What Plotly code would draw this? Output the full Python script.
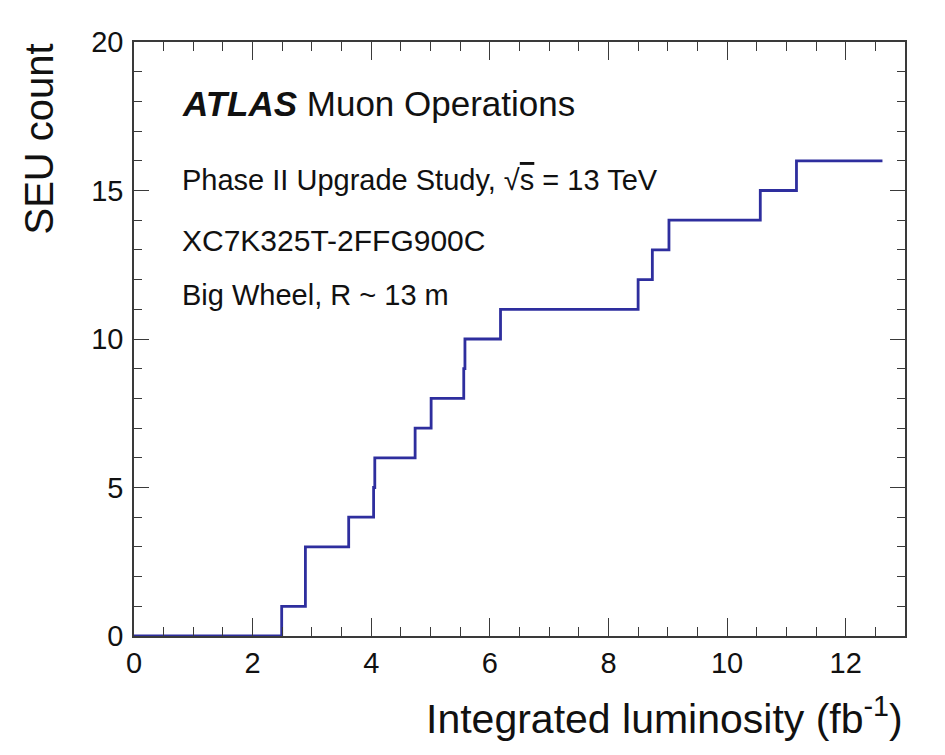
import plotly.graph_objects as go

# Step edges (integrated luminosity, fb^-1) and cumulative SEU count
lumi = [0.0, 2.49, 2.89, 3.62, 4.04, 4.06, 4.74, 5.01, 5.56, 5.58, 6.18,
        8.50, 8.74, 9.02, 10.56, 11.17, 12.62]
seu_count = [0, 1, 3, 4, 5, 6, 7, 8, 9, 10, 11, 12, 13, 14, 15, 16, 16]

x_ticks = [0, 2, 4, 6, 8, 10, 12]
y_ticks = [0, 5, 10, 15, 20]

FONT = "Liberation Sans, Arial, Helvetica, sans-serif"
AX = "#3a3a3a"

# page body has an 8px margin, so the figure is offset by (8, 8)
OFF = 8

fig = go.Figure()
fig.add_trace(go.Scatter(
    x=lumi, y=seu_count, mode="lines", line_shape="hv",
    line=dict(color="#2e2e9e", width=2.8), showlegend=False,
))

fig.update_layout(
    width=945, height=755,
    margin=dict(l=134 - OFF, r=48, t=42 - OFF, b=127),
    paper_bgcolor="white", plot_bgcolor="white",
    font=dict(family=FONT, color="#111111"),
    xaxis=dict(
        range=[0, 13], tickvals=x_ticks, showgrid=False, zeroline=False,
        showline=True, linecolor=AX, linewidth=1.5, mirror="allticks",
        ticks="inside", ticklen=18, tickwidth=1.4, tickcolor=AX,
        tickfont=dict(size=29, family=FONT, color="#111"),
        minor=dict(ticks="inside", dtick=0.5, ticklen=9, tickwidth=1.4, tickcolor=AX, showgrid=False),
    ),
    yaxis=dict(
        range=[0, 20], tickvals=y_ticks, showgrid=False, zeroline=False,
        showline=True, linecolor=AX, linewidth=1.5, mirror="allticks",
        ticks="inside", ticklen=15, tickwidth=1.4, tickcolor=AX,
        ticklabelstandoff=3,
        tickfont=dict(size=29, family=FONT, color="#111"),
        minor=dict(ticks="inside", dtick=1, ticklen=8, tickwidth=1.4, tickcolor=AX, showgrid=False),
    ),
)

# helpers converting screenshot pixels to paper coordinates
def px_x(p):
    return (p - 134) / 771.0

def px_y(p):
    return (636 - p) / 594.0

annotations = [
    dict(text="<b><i>ATLAS</i></b> Muon Operations", x=px_x(180), y=px_y(103),
         xanchor="left", yanchor="middle", font=dict(size=35)),
    dict(text="Phase II Upgrade Study, √<span style='text-decoration:overline'>s</span> = 13 TeV",
         x=px_x(180), y=px_y(180), xanchor="left", yanchor="middle", font=dict(size=29)),
    dict(text="XC7K325T-2FFG900C", x=px_x(180), y=px_y(240),
         xanchor="left", yanchor="middle", font=dict(size=30)),
    dict(text="Big Wheel, R ~ 13 m", x=px_x(180), y=px_y(295),
         xanchor="left", yanchor="middle", font=dict(size=29)),
    dict(text="Integrated luminosity (fb<sup>-1</sup>)", x=1.0, y=px_y(716),
         xanchor="right", yanchor="middle", font=dict(size=41)),
    dict(text="SEU count", x=px_x(38), y=1.0, textangle=-90,
         xanchor="center", yanchor="top", font=dict(size=40)),
]
for a in annotations:
    a.update(xref="paper", yref="paper", showarrow=False)
    a["font"].update(family=FONT, color="#111111")
fig.update_layout(annotations=annotations)

fig.write_html("out.html")
